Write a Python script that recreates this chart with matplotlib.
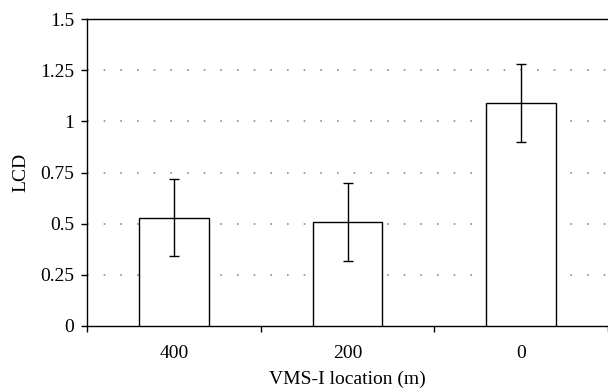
import matplotlib
matplotlib.use("Agg")
import matplotlib.pyplot as plt
import numpy as np

categories = ["400", "200", "0"]
lcd_mean = [0.53, 0.51, 1.09]
lcd_err = [0.19, 0.19, 0.19]
y_ticks = [0, 0.25, 0.5, 0.75, 1, 1.25, 1.5]
y_tick_labels = ["0", "0.25", "0.5", "0.75", "1", "1.25", "1.5"]

plt.rcParams["font.family"] = ["Liberation Serif", "DejaVu Serif"]

fig = plt.figure(figsize=(6.08, 3.9), dpi=100)
ax = fig.add_axes([87 / 608, 1 - 326 / 390, 1 - 87 / 608, (326 - 19) / 390])

x = np.arange(len(categories))
ax.bar(x, lcd_mean, width=0.4, color="white", edgecolor="black", linewidth=1.0, zorder=3)
ax.errorbar(x, lcd_mean, yerr=lcd_err, fmt="none", ecolor="black", elinewidth=1.0,
            capsize=3.5, capthick=1.0, zorder=4)

ax.set_xlim(-0.5, len(categories) - 0.5)
ax.set_ylim(0, 1.5)

# dotted grid lines only at the inner ticks
for yv in y_ticks[1:-1]:
    ax.axhline(yv, color="#8c8c8c", linestyle=(0, (1, 9)), linewidth=1.2, zorder=1)

ax.set_yticks(y_ticks)
ax.set_yticklabels(y_tick_labels)
ax.set_xticks(x)
ax.set_xticklabels(categories)
ax.set_xticks(np.arange(len(categories) + 1) - 0.5, minor=True)
ax.tick_params(axis="x", which="major", length=0, pad=14, labelsize=14)
ax.tick_params(axis="x", which="minor", length=4, width=1.0, direction="out")
ax.tick_params(axis="y", length=4, width=1.0, direction="out", labelsize=14, pad=5)

ax.spines["right"].set_visible(False)
for s in ["left", "top", "bottom"]:
    ax.spines[s].set_linewidth(1.0)

ax.set_ylabel("LCD", fontsize=14, labelpad=8)
ax.set_xlabel("VMS-I location (m)", fontsize=14, labelpad=6)

fig.savefig("out.png", dpi=100)
